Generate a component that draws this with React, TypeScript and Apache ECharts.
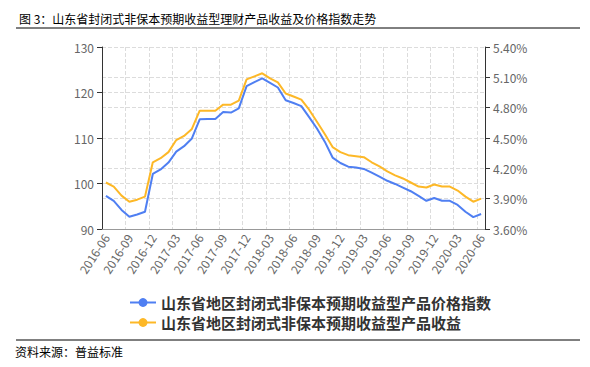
import React, { useEffect, useRef } from "react";
import * as echarts from "echarts";

const months: string[] = [];
for (let y = 2016; y <= 2020; y++) {
  for (let m = 1; m <= 12; m++) {
    if ((y === 2016 && m < 6) || (y === 2020 && m > 6)) continue;
    months.push(`${y}-${m < 10 ? "0" + m : m}`);
  }
}

const indexValues = [
  97.3, 96.2, 94.2, 92.7, 93.2, 93.8, 102.1, 103.1, 104.6, 107.0,
  108.2, 109.9, 114.1, 114.2, 114.2, 115.7, 115.6, 116.5, 121.4, 122.3,
  123.1, 122.1, 121.1, 118.3, 117.7, 117.0, 114.6, 112.1, 109.2, 105.7,
  104.5, 103.7, 103.5, 103.2, 102.4, 101.5, 100.6, 99.9, 99.1, 98.3,
  97.3, 96.2, 96.8, 96.2, 96.2, 95.3, 93.8, 92.6, 93.3,
];

const yieldValues = [
  4.06, 4.02, 3.93, 3.87, 3.89, 3.92, 4.26, 4.30, 4.36, 4.48,
  4.52, 4.59, 4.77, 4.77, 4.77, 4.83, 4.83, 4.87, 5.08, 5.11,
  5.14, 5.09, 5.05, 4.94, 4.91, 4.88, 4.78, 4.66, 4.54, 4.41,
  4.36, 4.33, 4.32, 4.31, 4.26, 4.22, 4.17, 4.13, 4.10, 4.06,
  4.02, 4.01, 4.04, 4.02, 4.02, 3.98, 3.92, 3.87, 3.90,
];

const titleText = "图 3：山东省封闭式非保本预期收益型理财产品收益及价格指数走势";
const sourceText = "资料来源：普益标准";
const indexName = "山东省地区封闭式非保本预期收益型产品价格指数";
const yieldName = "山东省地区封闭式非保本预期收益型产品收益";

const BLUE = "#4f7ff2";
const YELLOW = "#fdb827";
const FONT = "'Noto Sans CJK SC', 'Noto Sans', sans-serif";

export default function App() {
  const ref = useRef<HTMLDivElement>(null);
  useEffect(() => {
    if (!ref.current) return;
    const chart = echarts.init(ref.current, undefined, { renderer: "svg" });
    chart.setOption({
      animation: false,
      backgroundColor: "#ffffff",
      textStyle: { fontFamily: FONT },
      title: {
        text: titleText,
        left: 14,
        top: 7,
        textStyle: { fontSize: 12, fontWeight: "normal", color: "#000000", fontFamily: FONT },
      },
      graphic: [
        { type: "line", shape: { x1: 16, y1: 28, x2: 580, y2: 28 }, style: { stroke: "#000", lineWidth: 1 } },
        { type: "line", shape: { x1: 16, y1: 340, x2: 580, y2: 340 }, style: { stroke: "#000", lineWidth: 1 } },
        {
          type: "text",
          left: 15,
          top: 345,
          style: { text: sourceText, fontSize: 12, fill: "#000", fontFamily: FONT },
        },
      ],
      legend: {
        orient: "vertical",
        left: 124,
        top: 290,
        itemWidth: 26,
        itemHeight: 11,
        itemGap: 5,
        textStyle: { fontSize: 15, fontWeight: "bold", color: "#333", fontFamily: FONT },
        data: [indexName, yieldName],
      },
      grid: { left: 102, right: 105, top: 47, bottom: 138 },
      xAxis: {
        type: "category",
        data: months,
        boundaryGap: true,
        axisLine: { lineStyle: { color: "#999" } },
        axisTick: { interval: 2, alignWithLabel: true, lineStyle: { color: "#999" } },
        axisLabel: { interval: 2, rotate: 57, color: "#666", fontSize: 12, margin: 6 },
        splitLine: { show: true, interval: 2, lineStyle: { type: "dashed", color: "#dcdcdc" } },
      },
      yAxis: [
        {
          type: "value",
          min: 90,
          max: 130,
          interval: 10,
          axisLine: { show: true, lineStyle: { color: "#333" } },
          axisTick: { show: true, lineStyle: { color: "#333" } },
          axisLabel: { color: "#666", fontSize: 12 },
          splitLine: { show: true, lineStyle: { type: "dashed", color: "#dcdcdc" } },
        },
        {
          type: "value",
          min: 3.6,
          max: 5.4,
          interval: 0.3,
          position: "right",
          axisLine: { show: true, lineStyle: { color: "#333" } },
          axisTick: { show: true, lineStyle: { color: "#333" } },
          axisLabel: {
            color: "#666",
            fontSize: 12,
            formatter: (v: number) => v.toFixed(2) + "%",
          },
          splitLine: { show: true, lineStyle: { type: "dashed", color: "#dcdcdc" } },
        },
      ],
      series: [
        {
          name: indexName,
          type: "line",
          yAxisIndex: 0,
          data: indexValues,
          symbol: "circle",
          showSymbol: false,
          lineStyle: { color: BLUE, width: 2 },
          itemStyle: { color: BLUE },
        },
        {
          name: yieldName,
          type: "line",
          yAxisIndex: 1,
          data: yieldValues,
          symbol: "circle",
          showSymbol: false,
          lineStyle: { color: YELLOW, width: 2 },
          itemStyle: { color: YELLOW },
        },
      ],
    });
    return () => chart.dispose();
  }, []);
  return (
    <div
      ref={ref}
      style={{ position: "absolute", left: 0, top: 0, width: 590, height: 367 }}
    />
  );
}
